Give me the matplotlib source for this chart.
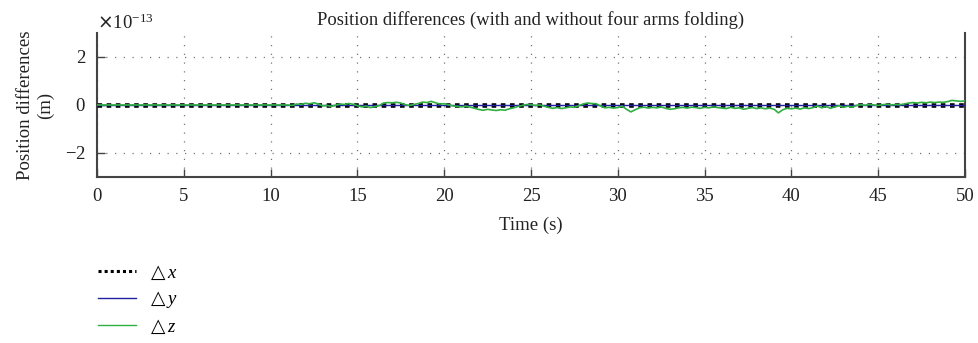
import numpy as np
import matplotlib
matplotlib.use("Agg")
from matplotlib import pyplot as plt
from matplotlib.ticker import ScalarFormatter

# position differences, units of 1e-13 m
scale = 1e-13
t_xy = [0, 50]
dx = [0.0, 0.0]
dy = [0.0, 0.0]

# z differences sampled every 0.25 s from 11 s to 50 s (zero before 11 s)
dz_start = 11.0
dz_vals = [
    0.00, -0.02, 0.04, 0.02, 0.07, 0.05, 0.09, 0.04,
    -0.04, -0.02, -0.06, -0.01, 0.04, 0.02, 0.06, 0.03,
    -0.03, -0.08, -0.05, -0.11, -0.07, -0.03, 0.08, 0.10,
    0.09, 0.11, 0.08, 0.01, -0.02, 0.02, 0.06, 0.12,
    0.10, 0.15, 0.09, 0.04, 0.05, 0.01, -0.04, -0.06,
    -0.08, -0.05, -0.09, -0.14, -0.19, -0.22, -0.18, -0.21,
    -0.23, -0.20, -0.22, -0.16, -0.12, -0.06, -0.02, 0.02,
    0.01, -0.02, 0.00, -0.05, -0.10, -0.14, -0.11, -0.15,
    -0.12, -0.08, -0.10, -0.03, 0.04, 0.08, 0.06, 0.05,
    -0.04, -0.12, -0.10, -0.13, -0.11, -0.05, -0.18, -0.29,
    -0.20, -0.12, -0.09, -0.13, -0.10, -0.12, -0.08, -0.14,
    -0.18, -0.16, -0.12, -0.10, -0.13, -0.09, -0.11, -0.14,
    -0.10, -0.12, -0.08, -0.11, -0.13, -0.15, -0.10, -0.14,
    -0.12, -0.18, -0.14, -0.11, -0.15, -0.12, -0.16, -0.13,
    -0.18, -0.33, -0.20, -0.14, -0.16, -0.13, -0.17, -0.12,
    -0.15, -0.11, -0.04, -0.12, -0.06, -0.14, -0.08, -0.03,
    -0.10, -0.05, -0.09, -0.02, 0.01, -0.01, 0.02, 0.00,
    -0.02, 0.01, 0.03, 0.00, 0.02, 0.01, 0.04, 0.08,
    0.10, 0.08, 0.11, 0.09, 0.12, 0.10, 0.12, 0.11,
    0.14, 0.19, 0.17, 0.15, 0.17,
]

x_ticks = [0, 5, 10, 15, 20, 25, 30, 35, 40, 45, 50]
y_ticks = [-2, 0, 2]

t_z = np.concatenate([[0.0], np.linspace(dz_start, 50, len(dz_vals))])
dz = np.concatenate([[0.0], dz_vals]) * scale

plt.rcParams['font.family'] = ['Liberation Serif', 'DejaVu Sans']
plt.rcParams['mathtext.fontset'] = 'custom'
plt.rcParams['mathtext.rm'] = 'DejaVu Sans'
plt.rcParams['mathtext.it'] = 'Liberation Serif:italic'
plt.rcParams['font.size'] = 13.5

fig = plt.figure(figsize=(9.79, 3.43), dpi=100)
ax = fig.add_axes([0.0991, 0.484, 0.8866, 0.42])

ax.plot(t_xy, np.array(dx) * scale, color='black', lw=3.3, ls=(0, (1, 1)),
        label=r'$\triangle x$', zorder=3)
ax.plot(t_xy, np.array(dy) * scale, color='#2020a0', lw=1,
        label=r'$\triangle y$', zorder=4)
ax.plot(t_z, dz, color='#30b040', lw=1.2, label=r'$\triangle z$', zorder=5)

ax.set_xlim(0, 50)
ax.set_ylim(-3 * scale, 3 * scale)
ax.set_xticks(x_ticks)
ax.set_yticks([v * scale for v in y_ticks])

fmt = ScalarFormatter(useMathText=True)
fmt.set_powerlimits((0, 0))
ax.yaxis.set_major_formatter(fmt)
ax.yaxis.get_offset_text().set_fontsize(13.5)

ax.grid(True, color='#777777', lw=0.9, ls=(0, (1, 6)))
ax.tick_params(direction='in', length=6, color='#444444', width=1,
               labelcolor='#222222', pad=8)
for side in ['left', 'bottom', 'right']:
    ax.spines[side].set_color('#444444')
    ax.spines[side].set_linewidth(1.5)
ax.spines['top'].set_visible(False)

ax.set_title('Position differences (with and without four arms folding)',
             fontsize=13.4, color='#222222', pad=6)
ax.set_xlabel('Time (s)', color='#222222', labelpad=8)
ax.set_ylabel('Position differences\n(m)', color='#222222', labelpad=8)

leg = fig.legend(loc='upper left', bbox_to_anchor=(0.083, 0.28),
                 frameon=False, handlelength=2.0, labelspacing=0.4,
                 handletextpad=0.65)
for line in leg.get_lines():
    line.set_linewidth(1 if line.get_linestyle() == '-' else 2.2)

plt.savefig('out.png', dpi=100)
plt.close()
